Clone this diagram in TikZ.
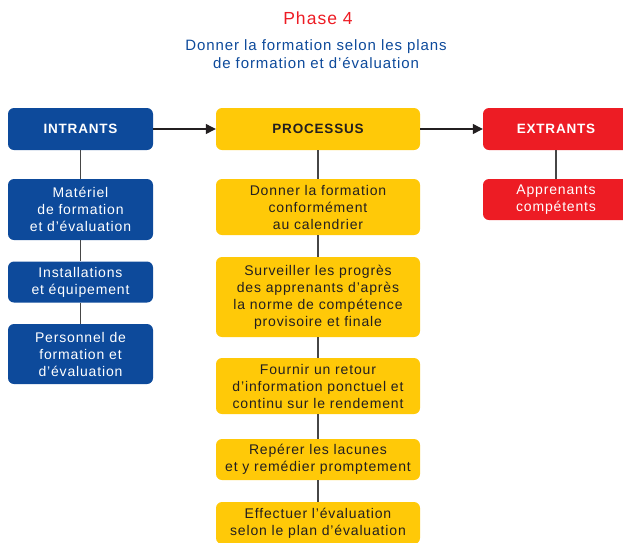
\documentclass[tikz,border=0pt]{standalone}
\usepackage{fontspec}
\setmainfont{Liberation Sans}[LetterSpace=6]
\usetikzlibrary{arrows.meta}
\definecolor{cblue}{RGB}{13,74,155}
\definecolor{cyellow}{RGB}{255,201,8}
\definecolor{cred}{RGB}{237,28,36}
\definecolor{cline}{RGB}{70,70,70}
\definecolor{ctext}{RGB}{35,31,32}
\begin{document}
\begin{tikzpicture}[x=1pt,y=-1pt,
  box/.style={rounded corners=6pt, inner sep=0pt, align=center, font=\fontsize{14}{17}\selectfont},
  bluebox/.style={box, fill=cblue, text=white, minimum width=145pt},
  yelbox/.style={box, fill=cyellow, text=ctext, minimum width=204pt},
  redbox/.style={box, fill=cred, text=white, minimum width=146pt},
  head/.style={font=\fontsize{13.5}{17}\selectfont\bfseries, minimum height=42pt},
  link/.style={draw=cline, line width=1.2pt},
  flow/.style={draw=ctext, line width=1.2pt, -{Triangle[length=10pt,width=10pt]}}
]
\useasboundingbox (0,0) rectangle (623,542);
\clip (0,0) rectangle (623,542);

\node[text=cred, font=\fontsize{17.5}{20}\selectfont] (title) at (318,18) {Phase 4};
\node[text=cblue, align=center, font=\fontsize{15}{18}\selectfont] (sub) at (316,54) {Donner la formation selon les plans\\de formation et d’évaluation};

\node[bluebox, head] (intr) at (80.5,129) {INTRANTS};
\node[yelbox, head] (proc) at (318,129) {PROCESSUS};
\node[redbox, head] (extr) at (556,129) {EXTRANTS};

\node[bluebox, minimum height=61pt] (m1) at (80.5,209.5) {Matériel\\de formation\\et d’évaluation};
\node[bluebox, minimum height=41pt] (m2) at (80.5,282) {Installations\\et équipement};
\node[bluebox, minimum height=60pt] (m3) at (80.5,354) {Personnel de\\formation et\\d’évaluation};

\node[yelbox, minimum height=56pt] (p1) at (318,207) {Donner la formation\\conformément\\au calendrier};
\node[yelbox, minimum height=80pt] (p2) at (318,297) {Surveiller les progrès\\des apprenants d’après\\la norme de compétence\\provisoire et finale};
\node[yelbox, minimum height=56pt] (p3) at (318,386) {Fournir un retour\\d’information ponctuel et\\continu sur le rendement};
\node[yelbox, minimum height=41pt] (p4) at (318,459.5) {Repérer les lacunes\\et y remédier promptement};
\node[yelbox, minimum height=42pt] (p5) at (318,523) {Effectuer l’évaluation\\selon le plan d’évaluation};

\node[redbox, minimum height=41pt] (e1) at (556,199.5) {Apprenants\\compétents};

\draw[link] (intr.south) -- (m1.north);
\draw[link] (m1.south) -- (m2.north);
\draw[link] (m2.south) -- (m3.north);
\draw[link] (proc.south) -- (p1.north);
\draw[link] (p1.south) -- (p2.north);
\draw[link] (p2.south) -- (p3.north);
\draw[link] (p3.south) -- (p4.north);
\draw[link] (p4.south) -- (p5.north);
\draw[link] (extr.south) -- (e1.north);

\draw[flow] (intr.east) -- (proc.west);
\draw[flow] (proc.east) -- (extr.west);
\end{tikzpicture}
\end{document}
